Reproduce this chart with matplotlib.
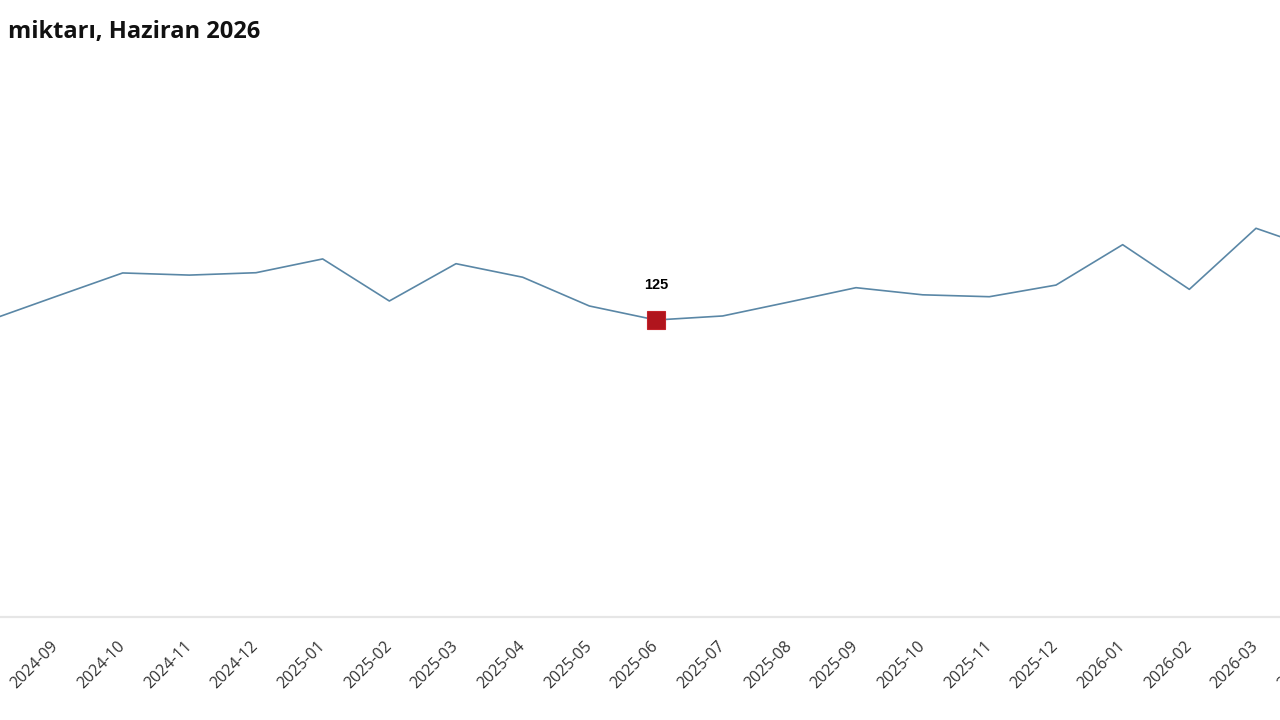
import matplotlib
matplotlib.use("Agg")
import matplotlib.pyplot as plt

# Monthly values (only the visible part of the series)
months = [
    "2024-08", "2024-09", "2024-10", "2024-11", "2024-12",
    "2025-01", "2025-02", "2025-03", "2025-04", "2025-05", "2025-06",
    "2025-07", "2025-08", "2025-09", "2025-10", "2025-11", "2025-12",
    "2026-01", "2026-02", "2026-03", "2026-04",
]
values = [
    124.9, 134.9, 144.8, 143.9, 144.9,
    150.7, 133.0, 148.7, 143.0, 130.9, 125.0,
    126.7, 132.6, 138.6, 135.6, 134.8, 139.7,
    156.7, 137.9, 163.6, 153.9,
]
highlight = "2025-06"
title = "miktarı, Haziran 2026"

W, H = 1280, 720
fig = plt.figure(figsize=(W / 100, H / 100), dpi=100)

# axes wider than the figure, so the chart looks cropped like the reference
px_month = 600 / 9
x0_px = 656 - 10 * px_month          # pixel of the first month
left_px, right_px = -80, 1400
base_px = 617
ymax = 240
ax = fig.add_axes([left_px / W, 1 - base_px / H,
                   (right_px - left_px) / W, ymax * (base_px - 320) / 125 / H])

xs = list(range(len(months)))
ax.plot(xs, values, color="#5a87a6", lw=1.2)

hi = months.index(highlight)
ax.plot(hi, values[hi], marker="s", markersize=13, color="#b0151d",
        markeredgecolor="#c4242b", markeredgewidth=0.8, zorder=3)
ax.annotate(f"{values[hi]:.0f}", (hi, values[hi]), xytext=(0, 25),
            textcoords="offset points", ha="center", va="center",
            fontsize=10.5, fontweight="bold", family="Liberation Sans", color="#000000")

ax.set_xlim((left_px - x0_px) / px_month, (right_px - x0_px) / px_month)
ax.set_ylim(0, ymax)
ax.set_xticks(xs)
ax.set_xticklabels(months, rotation=45, ha="right", va="center",
                   rotation_mode="anchor", fontsize=11.5,
                   family="Open Sans", color="#333333")
ax.tick_params(axis="x", length=0, pad=19)
ax.set_yticks([])
for side in ["left", "right", "top"]:
    ax.spines[side].set_visible(False)
ax.spines["bottom"].set_color("#e6e6e6")
ax.spines["bottom"].set_linewidth(1.6)

fig.text(8 / W, 1 - 38 / H, title, ha="left", va="baseline", fontsize=17,
         fontweight="bold", family="Open Sans", color="#111111")

fig.savefig("out.png", dpi=100)
